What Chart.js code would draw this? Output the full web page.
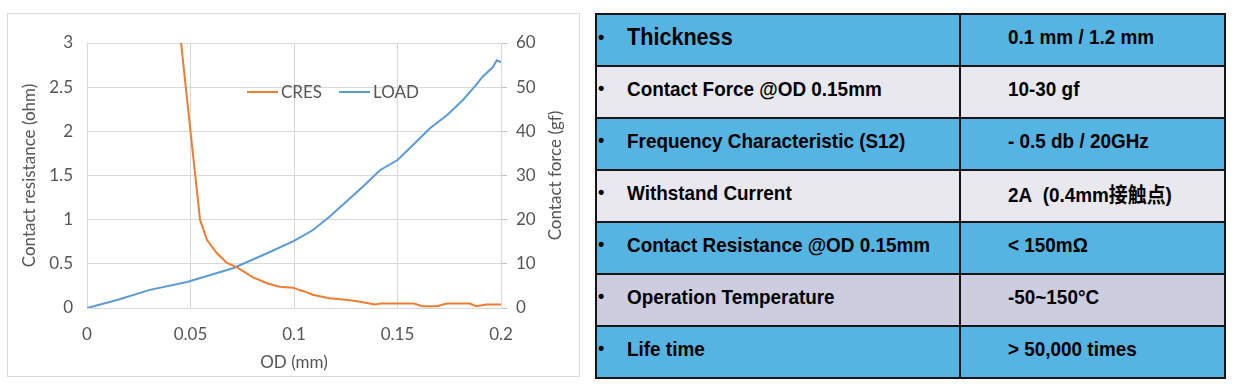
<!doctype html>
<html lang="en">
  <head>
    <meta charset="utf-8">
    <style>
      * { margin: 0; padding: 0; box-sizing: border-box; }
      body { background: #fff; width: 1239px; height: 392px; overflow: hidden; position: relative; }
      .chartBox {
        position: absolute; left: 7px; top: 13px;
        width: 573px; height: 364px;
        border: 1px solid #d9d9d9;
      }
      .chartBox canvas { display: block; }
      table.spec {
        position: absolute; left: 595px; top: 13px;
        width: 631px; height: 365px;
        border-collapse: collapse;
        table-layout: fixed;
        font-family: "Liberation Sans", Arial, sans-serif;
        font-weight: bold; color: #000;
      }
      table.spec td {
        border: 2px solid #151515;
        height: 52px; vertical-align: middle;
        padding-bottom: 7px;
        font-size: 21px; white-space: nowrap; overflow: hidden;
      }
      table.spec col.k { width: 364px; }
      table.spec td.v { padding-left: 47px; font-size: 21px; }
      table.spec .t { display: inline-block; transform: scaleX(0.9); transform-origin: 0 50%; }
      table.spec .dot { display: inline-block; width: 30px; padding-left: 1px; font-size: 18px; vertical-align: 2px; }
      table.spec tr.big td.k { font-size: 24px; }
      table.spec .cjk { font-family: "Noto Sans CJK SC", sans-serif; font-weight: bold; }
      tr.blue td { background: #56b4e3; }
      tr.light td { background: #e9e8ee; }
      tr.lilac td { background: #cecde0; }
    </style>
  </head>
  <body>
    <div class="chartBox">
      <canvas id="myChart" width="571" height="362"></canvas>
    </div>
    <table class="spec" id="spec"><colgroup><col class="k"><col></colgroup></table>

    <script src="https://cdn.jsdelivr.net/npm/chart.js/dist/chart.umd.min.js"></script>
    <script>
    // data
    const cresOd     = [0.045, 0.050, 0.053, 0.0546, 0.058, 0.0628, 0.0676, 0.0725, 0.080, 0.087, 0.093, 0.0995, 0.103, 0.106, 0.109, 0.117, 0.126, 0.132, 0.139, 0.142, 0.158, 0.162, 0.169, 0.174, 0.185, 0.188, 0.193, 0.200];
    const cresValues = [3.10, 2.00, 1.35, 1.00, 0.77, 0.62, 0.51, 0.46, 0.35, 0.28, 0.24, 0.23, 0.20, 0.18, 0.15, 0.11, 0.09, 0.07, 0.04, 0.05, 0.05, 0.02, 0.02, 0.05, 0.05, 0.02, 0.04, 0.04];

    const loadOd     = [0, 0.0145, 0.0304, 0.0483, 0.0705, 0.087, 0.100, 0.109, 0.117, 0.126, 0.134, 0.1415, 0.150, 0.1575, 0.1657, 0.174, 0.1816, 0.188, 0.191, 0.196, 0.198, 0.200];
    const loadValues = [0, 1.8, 4.1, 5.9, 9.0, 12.4, 15.2, 17.6, 20.6, 24.4, 27.8, 31.2, 33.5, 36.9, 40.7, 43.7, 47.1, 50.5, 52.3, 54.5, 56.1, 55.7];

    const xTicks  = [0, 0.05, 0.1, 0.15, 0.2];
    const yTicks  = [0, 0.5, 1, 1.5, 2, 2.5, 3];
    const y1Ticks = [0, 10, 20, 30, 40, 50, 60];

    // table on the right
    const specNames  = ['Thickness', 'Contact Force @OD 0.15mm', 'Frequency Characteristic (S12)', 'Withstand Current', 'Contact Resistance @OD 0.15mm', 'Operation Temperature', 'Life time'];
    const specValues = ['0.1 mm / 1.2 mm', '10-30 gf', '- 0.5 db / 20GHz', '2A\u00a0 (0.4mm接触点)', '< 150mΩ', '-50~150°C', '> 50,000 times'];
    const rowShade   = ['blue', 'light', 'blue', 'light', 'blue', 'lilac', 'blue'];

    const table = document.getElementById('spec');
    specNames.forEach((name, i) => {
      const tr = document.createElement('tr');
      tr.className = rowShade[i] + (i === 0 ? ' big' : '');
      const v = specValues[i].replace(/([\u4e00-\u9fff]+)/g, '<span class="cjk">$1</span>');
      tr.innerHTML = '<td class="k"><span class="dot">•</span><span class="t">' + name + '</span></td>' +
                     '<td class="v"><span class="t">' + v + '</span></td>';
      table.appendChild(tr);
    });

    const grey = '#555555';
    const gridGrey = '#d9d9d9';
    const uiFont = 'Lato, "Open Sans", sans-serif';
    const fs = 17;

    // legend drawn inside the plot like the original
    const innerLegend = {
      id: 'innerLegend',
      afterDraw(chart) {
        const { ctx, chartArea: { left, top } } = chart;
        ctx.save();
        ctx.font = fs + 'px ' + uiFont;
        ctx.textBaseline = 'middle';
        ctx.textAlign = 'left';
        let x = left + 160;
        const y = top + 49;
        chart.data.datasets.forEach(ds => {
          ctx.strokeStyle = ds.borderColor;
          ctx.lineWidth = 2;
          ctx.beginPath();
          ctx.moveTo(x, y);
          ctx.lineTo(x + 31, y);
          ctx.stroke();
          ctx.fillStyle = grey;
          ctx.fillText(ds.label, x + 34, y + 1);
          x += 34 + ctx.measureText(ds.label).width + 17;
        });
        ctx.restore();
      }
    };

    // right axis title reads bottom-to-top in the original
    const rightTitle = {
      id: 'rightTitle',
      afterDraw(chart) {
        const { ctx, chartArea: { right, top, bottom } } = chart;
        ctx.save();
        ctx.translate(right + 55, (top + bottom) / 2);
        ctx.rotate(-Math.PI / 2);
        ctx.font = fs + 'px ' + uiFont;
        ctx.fillStyle = grey;
        ctx.textAlign = 'center';
        ctx.textBaseline = 'middle';
        ctx.fillText('Contact force (gf)', 0, 0);
        ctx.restore();
      }
    };

    const config = {
      type: 'line',
      data: {
        datasets: [{
          label: 'CRES',
          data: cresOd.map((x, i) => ({ x, y: cresValues[i] })),
          borderColor: '#ed7d31',
          backgroundColor: '#ed7d31',
          borderWidth: 2,
          pointRadius: 0,
          tension: 0,
          yAxisID: 'y'
        }, {
          label: 'LOAD',
          data: loadOd.map((x, i) => ({ x, y: loadValues[i] })),
          borderColor: '#5b9bd5',
          backgroundColor: '#5b9bd5',
          borderWidth: 2,
          pointRadius: 0,
          tension: 0,
          yAxisID: 'y1'
        }]
      },
      options: {
        responsive: false,
        animation: false,
        layout: { padding: { top: 29, left: 0, right: 0, bottom: 0 } },
        plugins: {
          legend: { display: false },
          tooltip: { enabled: false }
        },
        scales: {
          x: {
            type: 'linear',
            min: 0, max: 0.2,
            afterBuildTicks: s => { s.ticks = xTicks.map(v => ({ value: v })); },
            afterFit: s => { s.height = 68; },
            ticks: { color: grey, font: { family: uiFont, size: fs }, padding: 16, callback: v => String(v) },
            grid: { color: gridGrey, drawTicks: false },
            border: { color: gridGrey },
            title: { display: true, text: 'OD (mm)', color: grey, font: { family: uiFont, size: fs }, padding: { bottom: 3 } }
          },
          y: {
            min: 0, max: 3,
            afterBuildTicks: s => { s.ticks = yTicks.map(v => ({ value: v })); },
            afterFit: s => { s.width = 79; },
            ticks: { color: grey, font: { family: uiFont, size: fs }, padding: 14, callback: v => String(v) },
            grid: { color: gridGrey, drawTicks: false },
            border: { color: gridGrey },
            title: { display: true, text: 'Contact resistance (ohm)', color: grey, font: { family: uiFont, size: fs }, padding: { top: 11 } }
          },
          y1: {
            position: 'right',
            min: 0, max: 60,
            afterBuildTicks: s => { s.ticks = y1Ticks.map(v => ({ value: v })); },
            afterFit: s => { s.width = 78; },
            ticks: { color: grey, font: { family: uiFont, size: fs }, padding: 9 },
            grid: { drawOnChartArea: false, color: '#bfbfbf', tickLength: 6 },
            border: { color: gridGrey }
          }
        }
      },
      plugins: [innerLegend, rightTitle]
    };

    const myChart = new Chart(document.getElementById('myChart'), config);
    </script>
  </body>
</html>
